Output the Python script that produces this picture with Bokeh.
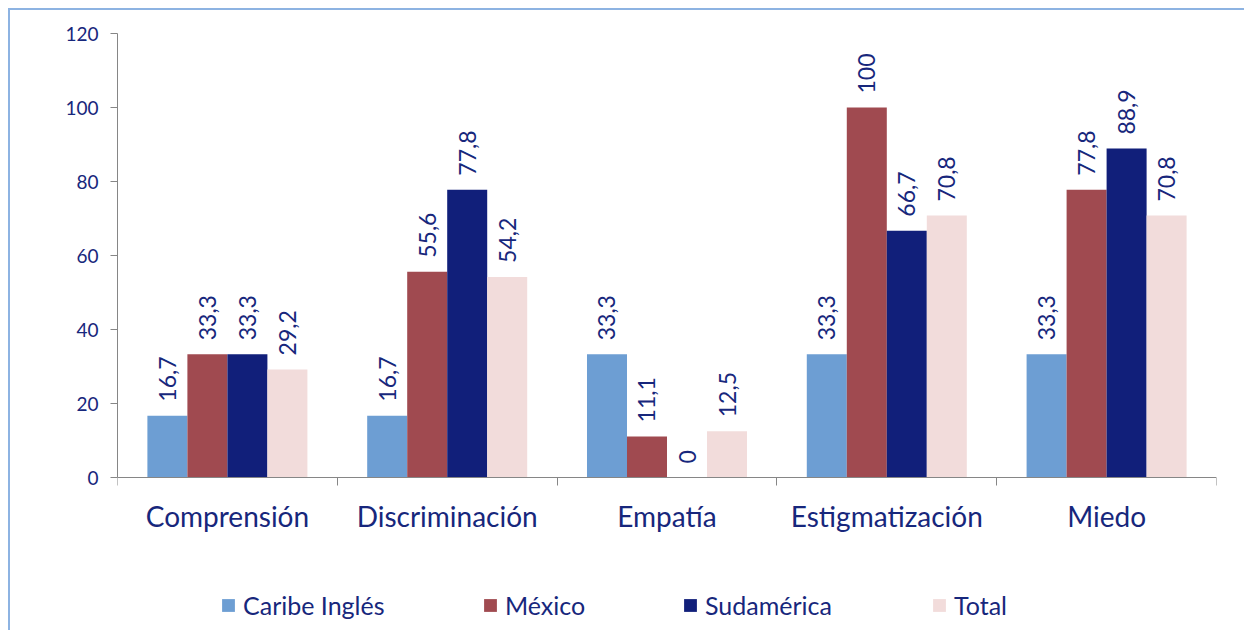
import math
from bokeh.plotting import figure
from bokeh.models import ColumnDataSource, Range1d, FixedTicker, Legend, LegendItem
from bokeh.core.properties import value
from bokeh.embed import file_html
from bokeh.resources import INLINE

categories = ["Comprensión", "Discriminación", "Empatía", "Estigmatización", "Miedo"]
series_names = ["Caribe Inglés", "México", "Sudamérica", "Total"]
caribe = [16.7, 16.7, 33.3, 33.3, 33.3]
mexico = [33.3, 55.6, 11.1, 100, 77.8]
sudamerica = [33.3, 77.8, 0, 66.7, 88.9]
total = [29.2, 54.2, 12.5, 70.8, 70.8]
y_ticks = [0, 20, 40, 60, 80, 100, 120]

series_values = [caribe, mexico, sudamerica, total]
colors = ["#6D9ED3", "#A04A50", "#111F7A", "#F2DCDB"]

FONT = "Lato"
TEXT = "#17277C"
AXIS = "#868686"

# layout (pixels): plot area spans 444 px for 0..120, plus 155 px below zero
AREA_H = 444
BELOW_ZERO = 155
y_max = y_ticks[-1]
y_min = -y_max * BELOW_ZERO / AREA_H


def fmt(v):
    s = f"{v:.1f}".replace(".", ",")
    if s.endswith(",0"):
        s = s[:-2]
    return s


p = figure(width=1236, height=622,
           x_range=Range1d(0, len(categories)), y_range=Range1d(y_min, y_max),
           output_backend="svg", toolbar_location=None,
           min_border_left=107, min_border_top=23,
           min_border_right=30, min_border_bottom=0)
p.styles = {"margin-left": "8px", "margin-top": "8px",
            "border-left": "2px solid #8DB3E2", "border-top": "2px solid #8DB3E2"}
p.outline_line_color = None
p.xgrid.visible = False
p.ygrid.visible = False
p.background_fill_color = "white"
p.border_fill_color = "white"

bar_w = 0.182
offsets = [-1.5 * bar_w, -0.5 * bar_w, 0.5 * bar_w, 1.5 * bar_w]

renderers = []
for i, (name, vals) in enumerate(zip(series_names, series_values)):
    xs = [j + 0.5 + offsets[i] for j in range(len(categories))]
    src = ColumnDataSource(dict(x=xs, top=vals, label=[fmt(v) for v in vals]))
    r = p.vbar(x="x", top="top", bottom=0, width=bar_w, source=src,
               fill_color=colors[i], line_color=None)
    renderers.append(r)
    p.text(x="x", y="top", text="label", source=src, angle=math.pi / 2,
           text_align="left", text_baseline="middle", y_offset=-14,
           text_font=value(FONT), text_font_size="23px", text_color=TEXT)

# x axis drawn at y = 0: category labels at centres, tick marks at boundaries
xa = p.xaxis[0]
xa.fixed_location = 0
xa.ticker = FixedTicker(ticks=[j + 0.5 for j in range(len(categories))],
                        minor_ticks=list(range(len(categories) + 1)))
xa.major_label_overrides = {j + 0.5: c for j, c in enumerate(categories)}
xa.major_tick_in = 0
xa.major_tick_out = 0
xa.minor_tick_in = 0
xa.minor_tick_out = 8
xa.minor_tick_line_color = AXIS
xa.axis_line_color = AXIS
xa.major_label_standoff = 13
xa.major_label_text_font = FONT
xa.major_label_text_font_size = "28px"
xa.major_label_text_color = TEXT

ya = p.yaxis[0]
ya.bounds = (0, y_max)
ya.ticker = FixedTicker(ticks=y_ticks)
ya.major_tick_in = 0
ya.major_tick_out = 7
ya.minor_tick_line_color = None
ya.major_tick_line_color = AXIS
ya.axis_line_color = AXIS
ya.major_label_standoff = 12
ya.major_label_text_font = FONT
ya.major_label_text_font_size = "19px"
ya.major_label_text_color = TEXT

legend_x = [103, 365, 565, 814]
for i, name in enumerate(series_names):
    leg = Legend(items=[LegendItem(label=name, renderers=[renderers[i]])],
                 location=(legend_x[i], 12), padding=0, margin=0,
                 border_line_color=None, background_fill_alpha=0,
                 glyph_width=16, glyph_height=16, label_standoff=7,
                 label_text_font=FONT, label_text_font_size="25px",
                 label_text_color=TEXT)
    p.add_layout(leg)

open("out.html", "w").write(file_html(p, INLINE))
